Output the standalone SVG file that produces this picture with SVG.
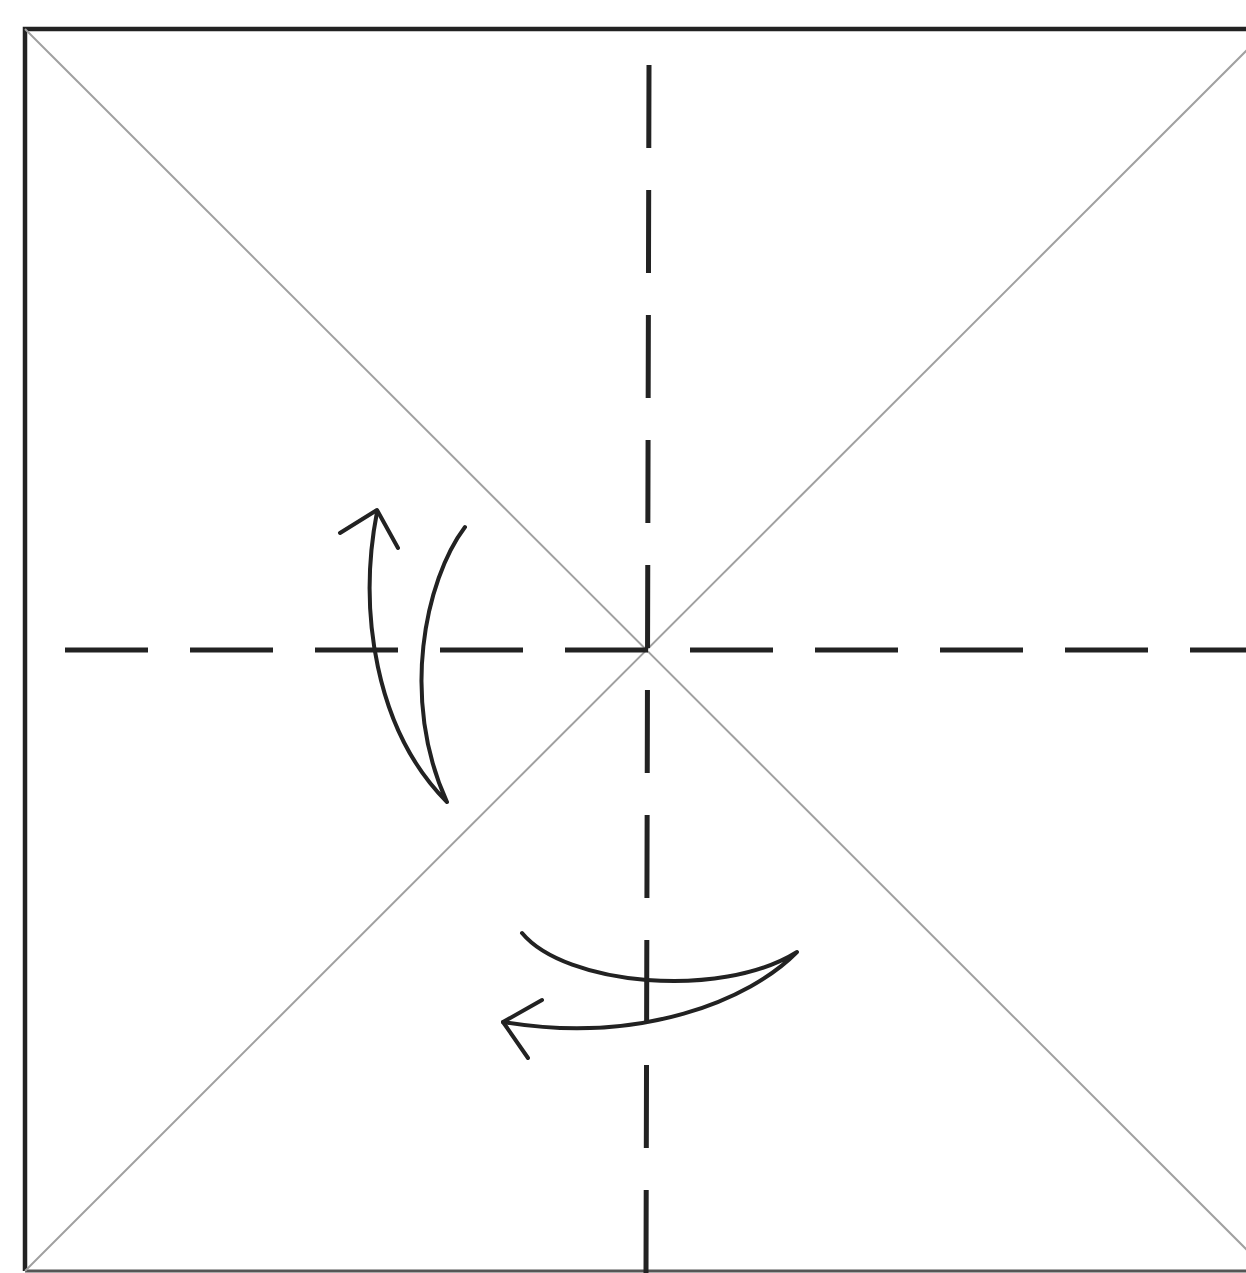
<svg xmlns="http://www.w3.org/2000/svg" width="1246" height="1273" viewBox="0 0 1246 1273">
<style>
.border{fill:none;stroke:#222;stroke-width:4.5}
.diag{stroke:#a0a0a0;stroke-width:2;fill:none}
.valley{stroke:#222;stroke-width:5;stroke-dasharray:83 42;fill:none}
.arrow{fill:none;stroke:#222;stroke-width:4;stroke-linecap:round;stroke-linejoin:round}
</style>
<rect width="1246" height="1273" fill="#fff"/>
<g id="paper">
<path class="border" d="M1250,29 L25,29 L25,1271"/>
<line x1="25" y1="1271" x2="1250" y2="1271" stroke="#555" stroke-width="3"/>
<line class="diag" x1="25" y1="29" x2="1268" y2="1271"/>
<line class="diag" x1="25" y1="1271" x2="1270" y2="27"/>
</g>
<g id="creases">
<line class="valley" x1="649" y1="65" x2="646" y2="1273"/>
<line class="valley" x1="65" y1="650" x2="1246" y2="650"/>
</g>
<g id="connectors">
<g id="arrow-left">
<path class="arrow" d="M465,527 C425,580 400,700 447,802 C375,730 358,610 377,512"/>
<polyline class="arrow" points="340,533 377,510 398,548"/>
</g>
<g id="arrow-bottom">
<path class="arrow" d="M522,933 C565,985 720,1000 797,952 C750,1000 640,1045 503,1022"/>
<polyline class="arrow" points="542,1000 503,1022 528,1058"/>
</g>
</g>
</svg>
